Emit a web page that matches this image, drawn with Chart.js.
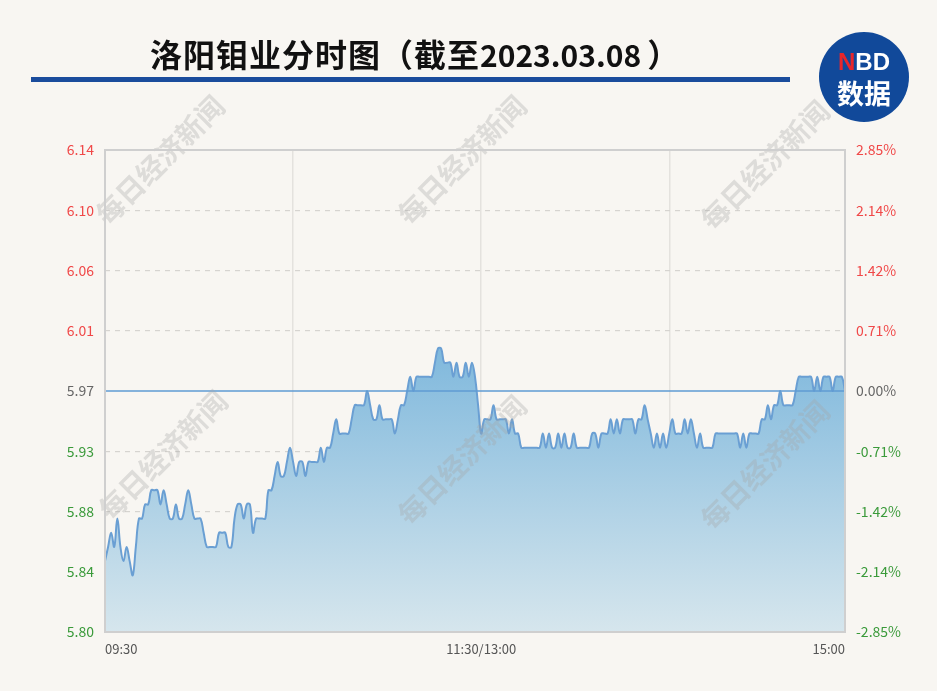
<!DOCTYPE html>
<html>
<head>
<meta charset="utf-8">
<script src="https://cdn.jsdelivr.net/npm/chart.js@4/dist/chart.umd.min.js"></script>
<style>
  body { margin: 0; background: #f8f6f2; }
  #wrap { position: relative; width: 937px; height: 691px; background: #f8f6f2; overflow: hidden; }
  #chartBox { position: absolute; left: 0; top: 0; width: 937px; height: 691px; }
  #title { position: absolute; left: 150px; top: 30px; line-height: 40px; white-space: nowrap;
           font: bold 32px "Noto Sans CJK SC", sans-serif; color: #111; letter-spacing: 1px; }
  #title .num { font-size: 30px; letter-spacing: 0; }
  #title .rp { margin-left: 6px; }
  #bar { position: absolute; left: 31px; top: 77px; width: 759px; height: 5px; background: #1a4c9c; }
  #logo { position: absolute; left: 819px; top: 32px; width: 90px; height: 90px; border-radius: 50%;
          background: #11499a; color: #fff; text-align: center; }
  #logo .nbd { position: absolute; top: 16px; width: 100%; line-height: 24px; font: bold 24px "Liberation Sans", sans-serif; }
  #logo .nbd span { color: #e8262b; }
  #logo .sj { position: absolute; top: 41px; width: 100%; line-height: 28px; font: bold 27px "Noto Sans CJK SC", sans-serif; }
</style>
</head>
<body>
<div id="wrap">
  <div id="chartBox"><canvas id="timeShare"></canvas></div>
  <div id="title">洛阳钼业分时图（截至<span class="num">2023.03.08</span><span class="rp">）</span></div>
  <div id="bar"></div>
  <div id="logo"><div class="nbd"><span>N</span>BD</div><div class="sj">数据</div></div>
</div>
<script>
   // Chart - 洛阳钼业 intraday time-share chart ==============================

   const prevClose = 5.97; // previous close (0.00% line)
   const priceMin = 5.80;
   const priceMax = 6.14;
   const pctMin = -2.85;
   const pctMax = 2.85;

   // tick labels, bottom to top
   const priceLabels = ['5.80', '5.84', '5.88', '5.93', '5.97', '6.01', '6.06', '6.10', '6.14'];
   const pctLabels = ['-2.85%', '-2.14%', '-1.42%', '-0.71%', '0.00%', '0.71%', '1.42%', '2.14%', '2.85%'];

   // x axis: minute index 0..240 (09:30-11:30, 13:00-15:00)
   const timeTicks = [0, 61, 122, 183, 240];
   const timeTickLabels = ['09:30', '', '11:30/13:00', '', '15:00'];

   // price per minute
   const prices = [
       5.85, 5.86, 5.87, 5.86, 5.88, 5.86, 5.85, 5.86, 5.85, 5.84,
       5.86, 5.88, 5.88, 5.89, 5.89, 5.90, 5.90, 5.90, 5.89, 5.90,
       5.89, 5.88, 5.88, 5.89, 5.88, 5.88, 5.89, 5.90, 5.89, 5.88,
       5.88, 5.88, 5.87, 5.86, 5.86, 5.86, 5.86, 5.87, 5.87, 5.87,
       5.86, 5.86, 5.88, 5.89, 5.89, 5.88, 5.89, 5.89, 5.87, 5.88,
       5.88, 5.88, 5.88, 5.90, 5.90, 5.91, 5.92, 5.91, 5.91, 5.92,
       5.93, 5.92, 5.91, 5.92, 5.92, 5.91, 5.92, 5.92, 5.92, 5.92,
       5.93, 5.92, 5.93, 5.93, 5.94, 5.95, 5.94, 5.94, 5.94, 5.94,
       5.95, 5.96, 5.96, 5.96, 5.96, 5.97, 5.96, 5.95, 5.95, 5.96,
       5.95, 5.95, 5.95, 5.95, 5.94, 5.95, 5.96, 5.96, 5.97, 5.98,
       5.97, 5.98, 5.98, 5.98, 5.98, 5.98, 5.98, 5.99, 6.00, 6.00,
       5.99, 5.99, 5.99, 5.98, 5.99, 5.98, 5.98, 5.99, 5.98, 5.99,
       5.98, 5.96, 5.94, 5.95, 5.95, 5.95, 5.96, 5.95, 5.95, 5.95,
       5.95, 5.94, 5.95, 5.94, 5.94, 5.93, 5.93, 5.93, 5.93, 5.93,
       5.93, 5.93, 5.94, 5.93, 5.94, 5.93, 5.93, 5.94, 5.93, 5.94,
       5.93, 5.93, 5.94, 5.93, 5.93, 5.93, 5.93, 5.93, 5.94, 5.94,
       5.93, 5.94, 5.94, 5.94, 5.95, 5.94, 5.95, 5.94, 5.95, 5.95,
       5.95, 5.95, 5.94, 5.95, 5.95, 5.96, 5.95, 5.94, 5.93, 5.94,
       5.93, 5.94, 5.93, 5.94, 5.95, 5.94, 5.94, 5.94, 5.95, 5.94,
       5.95, 5.94, 5.93, 5.94, 5.93, 5.93, 5.93, 5.93, 5.94, 5.94,
       5.94, 5.94, 5.94, 5.94, 5.94, 5.94, 5.93, 5.94, 5.93, 5.94,
       5.94, 5.94, 5.94, 5.95, 5.95, 5.96, 5.95, 5.96, 5.96, 5.97,
       5.96, 5.96, 5.96, 5.96, 5.97, 5.98, 5.98, 5.98, 5.98, 5.98,
       5.97, 5.98, 5.97, 5.98, 5.98, 5.98, 5.97, 5.98, 5.98, 5.98, 5.97
   ];

   const priceData = prices.map((p, i) => ({ x: i, y: p }));
   const closeData = [{ x: 0, y: prevClose }, { x: prices.length - 1, y: prevClose }];

   function labelColor(idx) {
       if (idx > 4) return '#f04848';
       if (idx < 4) return '#3a9a3a';
       return '#666666';
   }

   // frame round the plot + watermark text
   const framePlugin = {
       id: 'frame',
       afterDatasetsDraw(chart) {
           const { ctx, chartArea: a } = chart;
           ctx.save();
           ctx.font = 'bold 28px "Noto Sans CJK SC", sans-serif';
           ctx.fillStyle = 'rgba(165,165,165,0.32)';
           ctx.textAlign = 'center';
           ctx.textBaseline = 'middle';
           [[160, 160], [462, 160], [765, 165], [163, 455], [462, 460], [765, 465]].forEach(([x, y]) => {
               ctx.save();
               ctx.translate(x, y);
               ctx.rotate(-Math.PI / 4);
               ctx.fillText('每日经济新闻', 0, 0);
               ctx.restore();
           });
           ctx.strokeStyle = '#cfcfcf';
           ctx.lineWidth = 2;
           ctx.strokeRect(a.left, a.top, a.right - a.left, a.bottom - a.top);
           ctx.restore();
       }
   };

   const timeShare = document.getElementById('timeShare').getContext('2d');
   new Chart(timeShare, {
       type: 'line',
       data: {
           datasets: [
               {
                   label: '昨收',
                   data: closeData,
                   borderColor: '#5f9bd3',
                   borderWidth: 1.5,
                   pointRadius: 0,
                   fill: false,
                   order: 0
               },
               {
                   label: '价格',
                   data: priceData,
                   borderColor: '#6a9fd3',
                   borderWidth: 2,
                   pointRadius: 0,
                   tension: 0.4,
                   fill: 'start',
                   order: 1,
                   backgroundColor: (context) => {
                       const { chart } = context;
                       const area = chart.chartArea;
                       if (!area) return 'rgba(130,185,220,0.6)';
                       const g = chart.ctx.createLinearGradient(0, 340, 0, area.bottom);
                       g.addColorStop(0, '#7db7dc');
                       g.addColorStop(1, '#d6e6ed');
                       return g;
                   }
               }
           ]
       },
       plugins: [framePlugin],
       options: {
           responsive: true,
           maintainAspectRatio: false,
           animation: false,
           layout: { padding: { top: 150, left: 0, right: 0, bottom: 0 } },
           plugins: {
               legend: { display: false },
               tooltip: { enabled: false }
           },
           scales: {
               x: {
                   type: 'linear',
                   min: 0,
                   max: 240,
                   afterBuildTicks: (scale) => { scale.ticks = timeTicks.map(v => ({ value: v })); },
                   afterFit: (scale) => { scale.height = 59; },
                   border: { display: false },
                   grid: {
                       drawTicks: false,
                       color: (c) => (c.index === 0 || c.index === timeTicks.length - 1) ? 'rgba(0,0,0,0)' : '#e4e2de',
                       lineWidth: 1.5
                   },
                   ticks: {
                       autoSkip: false,
                       maxRotation: 0,
                       align: 'inner',
                       padding: 9,
                       color: '#555555',
                       font: { family: '"Noto Sans CJK SC", sans-serif', size: 13 },
                       callback: (value, index) => timeTickLabels[index]
                   }
               },
               y: {
                   position: 'left',
                   min: priceMin,
                   max: priceMax,
                   afterBuildTicks: (scale) => {
                       scale.ticks = priceLabels.map((_, k) => ({ value: priceMin + k * (priceMax - priceMin) / 8 }));
                   },
                   afterFit: (scale) => { scale.width = 105; },
                   border: { display: false, dash: [5, 5] },
                   grid: {
                       drawTicks: false,
                       color: (c) => (c.index === 0 || c.index === 4 || c.index === 8) ? 'rgba(0,0,0,0)' : '#d6d4d0',
                       lineWidth: 1.2
                   },
                   ticks: {
                       padding: 11,
                       color: (c) => labelColor(c.index),
                       font: { family: '"Noto Sans CJK SC", sans-serif', size: 14 },
                       callback: (value, index) => priceLabels[index]
                   }
               },
               y1: {
                   position: 'right',
                   min: pctMin,
                   max: pctMax,
                   afterBuildTicks: (scale) => {
                       scale.ticks = pctLabels.map((_, k) => ({ value: pctMin + k * (pctMax - pctMin) / 8 }));
                   },
                   afterFit: (scale) => { scale.width = 92; },
                   border: { display: false },
                   grid: { drawOnChartArea: false, drawTicks: false },
                   ticks: {
                       padding: 11,
                       color: (c) => labelColor(c.index),
                       font: { family: '"Noto Sans CJK SC", sans-serif', size: 14 },
                       callback: (value, index) => pctLabels[index]
                   }
               }
           }
       }
   });

//====================================================================
</script>
</body>
</html>
